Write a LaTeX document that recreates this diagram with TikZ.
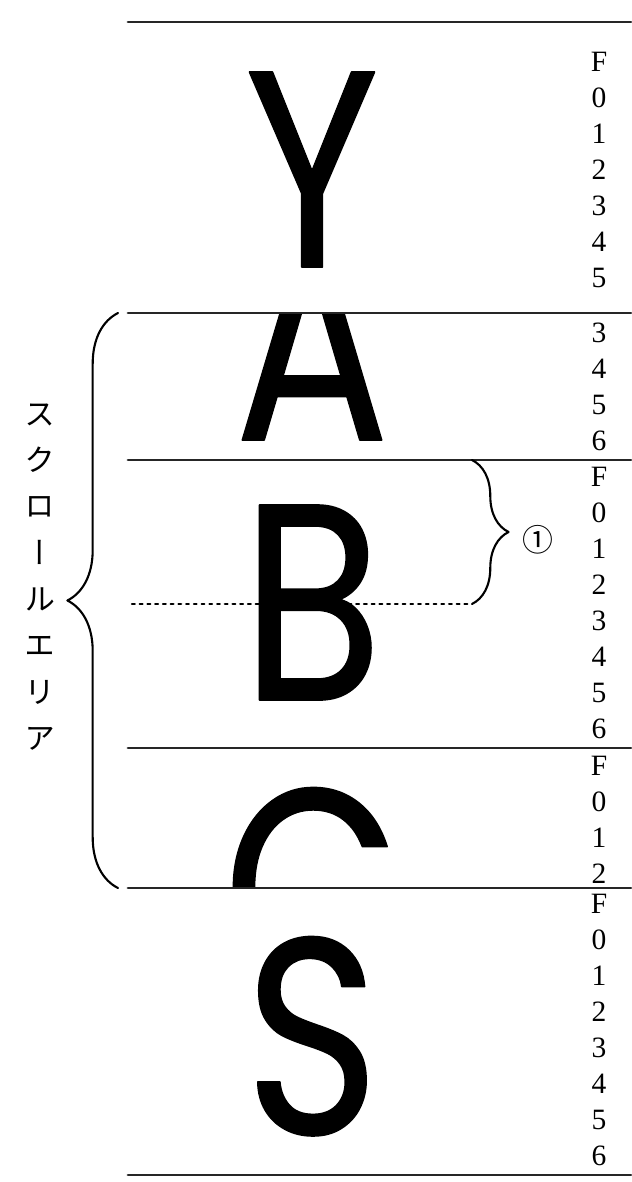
\documentclass[tikz,border=0pt]{standalone}
\usepackage{fontspec}
\setmainfont{Liberation Serif}
\newfontfamily\bigfont{Poppins}[FakeBold=0.6]
\newfontfamily\cjkfont{Noto Sans CJK JP}
\newfontfamily\cjkvert[RawFeature=+vert]{Noto Sans CJK JP}
\usetikzlibrary{decorations.pathreplacing}

\begin{document}
\begin{tikzpicture}[x=.25mm,y=-.25mm,line cap=round,line join=round,
  rule/.style={line width=2.1pt,black!85},
  letter/.style={anchor=base,inner sep=0,xscale=.82,
    font=\bigfont\fontsize{199}{199}\selectfont},
  rows/.style={anchor=north,inner sep=0,align=center,
    font=\fontsize{21}{25.6}\selectfont},
  curly/.style={decorate,decoration={brace,amplitude=#1},line width=1.5pt}]
  \useasboundingbox (0,0) rectangle (631,1182);
  \node[letter] (yy) at (312,267) {Y};
  \node[letter] (bb) at (312,700) {B};
  \node[letter] (ss) at (312,1134) {S};
  \begin{scope}
    \clip (128,313) rectangle (631,888);
    \node[letter] (aa) at (312,440) {A};
    \node[letter] (cc) at (312,985) {C};
  \end{scope}
  \foreach \y in {22,313,460,748,888,1175}
    \draw[rule] (128,\y) -- (631,\y);
  \draw[line width=1.5pt,dash pattern=on 2pt off 3.5pt] (132,604) -- (470,604);
  \draw[curly=36] (118,888) -- (118,313);
  \draw[curly=26] (472,460) -- (472,604);
  \node[font=\cjkfont\fontsize{22}{22}\selectfont] (one) at (538,540) {①};
  \node[font=\cjkvert\fontsize{22}{33}\selectfont,align=center,inner sep=0]
    (area) at (40,577) {ス\\ク\\ロ\\ー\\ル\\エ\\リ\\ア};
  \node[rows] (ycol) at (599,52) {F\\0\\1\\2\\3\\4\\5};
  \node[rows] (acol) at (599,323) {3\\4\\5\\6};
  \node[rows] (bcol) at (599,467) {F\\0\\1\\2\\3\\4\\5\\6};
  \node[rows] (ccol) at (599,756) {F\\0\\1\\2};
  \node[rows] (scol) at (599,894) {F\\0\\1\\2\\3\\4\\5\\6};
\end{tikzpicture}
\end{document}
